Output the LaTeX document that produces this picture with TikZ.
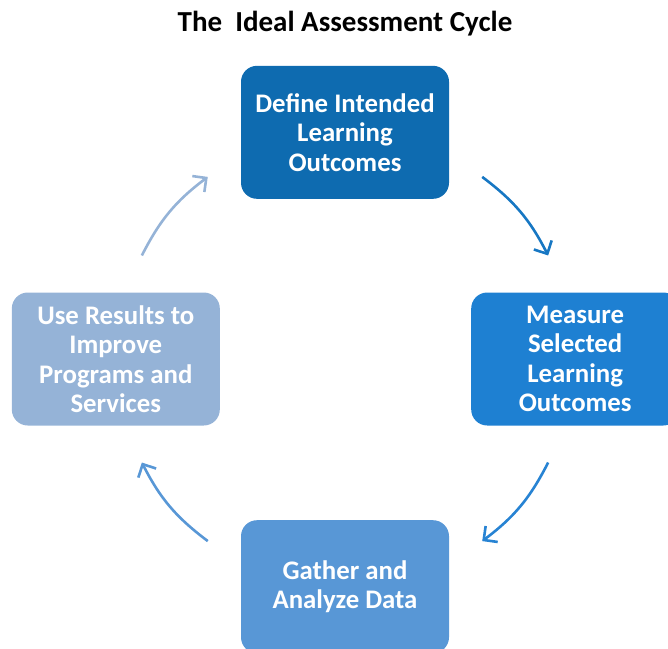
\documentclass[tikz,border=0pt]{standalone}
\usepackage{fontspec}
\setmainfont{Carlito}
\usetikzlibrary{arrows.meta, positioning, calc}
\definecolor{stepone}{RGB}{14, 107, 176}
\definecolor{steptwo}{RGB}{30, 128, 210}
\definecolor{stepthree}{RGB}{88, 151, 214}
\definecolor{stepfour}{RGB}{149, 179, 215}

\begin{document}
\begin{tikzpicture}[
        x=1pt, y=1pt,
        block/.style={rectangle, rounded corners=16pt, inner sep=0pt,
                      minimum width=208pt, minimum height=133pt,
                      align=center, text=white,
                      font=\fontsize{26.8}{29.5}\selectfont\bfseries},
        arrow/.style={-{Straight Barb[length=10pt, width=20pt]}, line width=2.6pt},
    ]
        \clip (0,0) rectangle (668,-648);
        \coordinate (cyc) at (345,-359);

        \node[font=\fontsize{29}{33}\selectfont\bfseries] (title) at (345,-24) {The\ \ Ideal Assessment Cycle};

        \node[block, fill=stepone, above=160pt of cyc] (define) {Define Intended\\Learning\\Outcomes};
        \node[block, fill=steptwo, right=126pt of cyc] (measure) {Measure\\Selected\\Learning\\Outcomes};
        \node[block, fill=stepthree, below=161pt of cyc] (gather) {Gather and\\Analyze Data};
        \node[block, fill=stepfour, left=125pt of cyc] (improve) {Use Results to\\Improve\\Programs and\\Services};

        % arc ends on a circle round the cycle centre
        \coordinate (oneA) at ($(cyc)+(53:228)$);
        \coordinate (oneB) at ($(cyc)+(27:228)$);
        \coordinate (twoA) at ($(cyc)+(-27:228)$);
        \coordinate (twoB) at ($(cyc)+(-53:228)$);
        \coordinate (threeA) at ($(cyc)+(-127:228)$);
        \coordinate (threeB) at ($(cyc)+(-153:228)$);
        \coordinate (fourA) at ($(cyc)+(153:228)$);
        \coordinate (fourB) at ($(cyc)+(127:228)$);

        \draw[arrow, steptwo!55!stepone] (oneA) to[bend left=13] (oneB);
        \draw[arrow, steptwo!85!stepthree] (twoA) to[bend left=13] (twoB);
        \draw[arrow, stepthree] (threeA) to[bend left=13] (threeB);
        \draw[arrow, stepfour] (fourA) to[bend left=13] (fourB);

    \end{tikzpicture}
\end{document}
